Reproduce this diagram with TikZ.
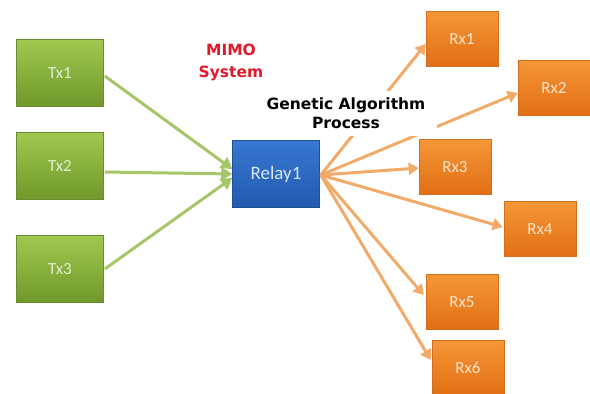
\documentclass[tikz,border=0pt]{standalone}
\usepackage{fontspec}
\setmainfont{Carlito}
\newfontfamily\labfont{DejaVu Sans}
\usetikzlibrary{arrows.meta,calc}
\definecolor{gtop}{RGB}{160,200,80}
\definecolor{gbot}{RGB}{112,152,42}
\definecolor{gedge}{RGB}{105,140,45}
\definecolor{otop}{RGB}{245,150,55}
\definecolor{obot}{RGB}{225,110,20}
\definecolor{oedge}{RGB}{210,110,30}
\definecolor{btop}{RGB}{55,120,210}
\definecolor{bbot}{RGB}{35,90,175}
\definecolor{bedge}{RGB}{30,80,150}
\definecolor{garrow}{RGB}{165,198,105}
\definecolor{oarrow}{RGB}{242,170,105}
\definecolor{mimored}{RGB}{225,25,45}
\definecolor{gtext}{RGB}{225,238,205}
\definecolor{otext}{RGB}{252,228,200}
\definecolor{btext}{RGB}{215,230,248}
\tikzset{
  txbox/.style={draw=gedge, line width=0.6pt, top color=gtop, bottom color=gbot,
    minimum width=87pt, minimum height=67pt, font=\fontsize{17}{19}\selectfont, text=gtext},
  rxbox/.style={draw=oedge, line width=0.6pt, top color=otop, bottom color=obot,
    minimum width=72pt, minimum height=55pt, font=\fontsize{17}{19}\selectfont, text=otext},
  relaybox/.style={draw=bedge, line width=0.6pt, top color=btop, bottom color=bbot,
    minimum width=87pt, minimum height=67pt, font=\fontsize{19}{21}\selectfont, text=btext},
  garr/.style={draw=garrow, line width=3pt, -{Triangle[length=11pt,width=13pt]}},
  oarr/.style={draw=oarrow, line width=3pt, -{Triangle[length=10pt,width=12pt]}},
  lbl/.style={font=\labfont\bfseries\fontsize{15.5}{22}\selectfont, align=center},
}
\begin{document}
\begin{tikzpicture}[x=1pt,y=-1pt]
\useasboundingbox[fill=white] (0,0) rectangle (590,394);
% transmitters
\node[txbox] (tx1) at (60,73) {Tx1};
\node[txbox] (tx2) at (60,166) {Tx2};
\node[txbox] (tx3) at (60,269) {Tx3};
% relay
\node[relaybox] (relay) at (276,174) {Relay1};
% receivers
\node[rxbox] (rx1) at (462,39) {Rx1};
\node[rxbox] (rx2) at (554,88) {Rx2};
\node[rxbox] (rx3) at (455,167) {Rx3};
\node[rxbox] (rx4) at (540,229) {Rx4};
\node[rxbox] (rx5) at (462,302) {Rx5};
\node[rxbox] (rx6) at (468,368) {Rx6};
% green arrows
\draw[garr] ($(tx1.east)+(1,3)$) -- ($(relay.west)+(0,-5)$);
\draw[garr] ($(tx2.east)+(1,6)$) -- (relay.west);
\draw[garr] ($(tx3.east)+(1,0)$) -- ($(relay.west)+(0,4)$);
% orange arrows
\coordinate (src) at ($(relay.east)+(1,1)$);
\draw[oarr] (src) -- ($(rx1.west)+(0,5)$);
\draw[oarr] (src) -- ($(rx2.west)+(0,5)$);
\draw[oarr] (src) -- ($(rx3.west)+(0,1)$);
\draw[oarr] (src) -- ($(rx4.west)+(-1,-2)$);
\draw[oarr] (src) -- ($(rx5.west)+(-2,-7)$);
\draw[oarr] (src) -- ($(rx6.west)+(-1,-8)$);
% labels
\node[lbl, font=\labfont\bfseries\fontsize{15.5}{19}\selectfont, fill=white, inner xsep=12pt, inner ysep=7pt, text=black] (ga) at (346,113) {Genetic Algorithm\\Process};
\node[lbl, text=mimored] (mimo) at (231,62) {MIMO\\System};
\end{tikzpicture}
\end{document}
